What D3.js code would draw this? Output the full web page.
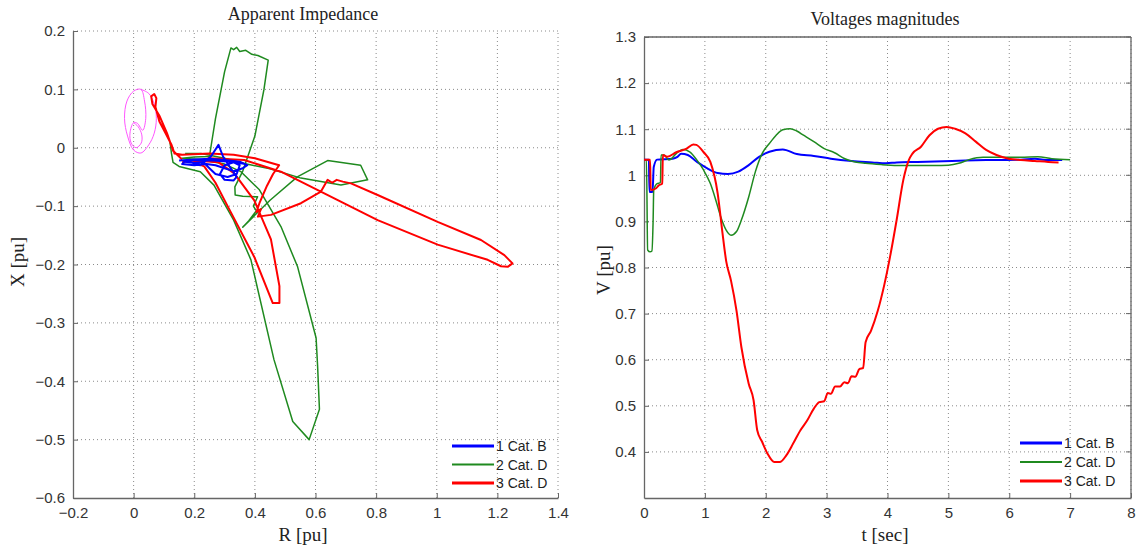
<!DOCTYPE html>
<html><head><meta charset="utf-8">
<script src="https://cdn.jsdelivr.net/npm/d3@7/dist/d3.min.js"></script>
<style>body{margin:0;background:#fff}svg{display:block}</style>
</head><body><svg id="c" width="1138" height="548"></svg>
<script>
// ---------- Data: Apparent impedance trajectories (R, X) ----------
const impSeriesNames = ["1 Cat. B", "2 Cat. D", "3 Cat. D"];
const impRTicks = [-0.2, 0, 0.2, 0.4, 0.6, 0.8, 1, 1.2, 1.4];
const impXTicks = [-0.6, -0.5, -0.4, -0.3, -0.2, -0.1, 0, 0.1, 0.2];

const zoneR = [0.024,0.05,0.068,0.075,0.068,0.05,0.024,0.0,-0.02,-0.03,-0.022,0.0,0.024,0.036,0.04,0.03,0.012,0.0,-0.012,-0.008,0.008,0.025,0.027,0.015,0.0];
const zoneX = [0.1,0.093,0.075,0.05,0.025,0.005,-0.009,-0.004,0.02,0.05,0.08,0.097,0.1,0.08,0.05,0.03,0.042,0.043,0.025,0.008,0.0,0.008,0.022,0.036,0.043];

const blueR = [0.15,0.2,0.25,0.3,0.35,0.375,0.36,0.33,0.3,0.27,0.24,0.2,0.16,0.17,0.22,0.255,0.28,0.295,0.32,0.34,0.33,0.3,0.285,0.3,0.33,0.35,0.34,0.31,0.27,0.25,0.23,0.2,0.17,0.2,0.26,0.32,0.37];
const blueX = [-0.022,-0.02,-0.019,-0.021,-0.024,-0.03,-0.035,-0.04,-0.035,-0.03,-0.028,-0.03,-0.028,-0.022,-0.03,-0.015,0.005,-0.015,-0.035,-0.05,-0.056,-0.055,-0.045,-0.03,-0.025,-0.03,-0.045,-0.05,-0.045,-0.035,-0.025,-0.026,-0.024,-0.021,-0.022,-0.024,-0.028];

const greenR = [0.12,0.125,0.13,0.15,0.22,0.265,0.33,0.387,0.463,0.525,0.579,0.613,0.607,0.602,0.541,0.486,0.415,0.354,0.3,0.22,0.16,0.2,0.25,0.27,0.3,0.321,0.33,0.34,0.35,0.37,0.39,0.41,0.444,0.43,0.4,0.36,0.334,0.335,0.36,0.409,0.395,0.405,0.38,0.36,0.45,0.54,0.64,0.749,0.772,0.684,0.552,0.45,0.365,0.3,0.222,0.17];
const greenX = [0.01,-0.01,-0.025,-0.032,-0.041,-0.064,-0.124,-0.192,-0.363,-0.469,-0.5,-0.448,-0.375,-0.326,-0.204,-0.135,-0.072,-0.041,-0.028,-0.02,-0.018,-0.016,-0.015,0.05,0.13,0.171,0.168,0.172,0.165,0.167,0.16,0.158,0.15,0.1,0.02,-0.04,-0.067,-0.081,-0.083,-0.084,-0.1,-0.108,-0.125,-0.136,-0.09,-0.05,-0.022,-0.03,-0.055,-0.064,-0.052,-0.036,-0.027,-0.018,-0.01,-0.01];

const redR = [0.16,0.13,0.11,0.085,0.062,0.058,0.068,0.075,0.072,0.085,0.105,0.125,0.135,0.16,0.25,0.33,0.4,0.48,0.46,0.44,0.415,0.405,0.42,0.41,0.453,0.552,0.618,0.64,0.655,0.67,0.69,0.717,0.805,1.003,1.146,1.223,1.25,1.234,1.212,1.168,1.003,0.805,0.629,0.486,0.365,0.25,0.2,0.233,0.27,0.31,0.398,0.459,0.481,0.481,0.453,0.398,0.332,0.28,0.2,0.16];
const redX = [-0.02,-0.005,0.025,0.055,0.075,0.088,0.092,0.085,0.07,0.045,0.025,0.005,-0.01,-0.012,-0.01,-0.012,-0.018,-0.03,-0.045,-0.065,-0.095,-0.11,-0.105,-0.118,-0.115,-0.095,-0.075,-0.055,-0.06,-0.055,-0.058,-0.061,-0.081,-0.127,-0.158,-0.184,-0.198,-0.204,-0.203,-0.192,-0.166,-0.124,-0.078,-0.041,-0.021,-0.018,-0.025,-0.032,-0.06,-0.1,-0.187,-0.266,-0.266,-0.237,-0.157,-0.09,-0.044,-0.025,-0.022,-0.025];

// ---------- Data: Voltage magnitudes (t, V) ----------
const voltTTicks = [0,1,2,3,4,5,6,7,8];
const voltVTicks = [0.4,0.5,0.6,0.7,0.8,0.9,1,1.1,1.2,1.3];

const blueT = [0,0.08,0.09,0.14,0.16,0.215,0.47,0.55,0.61,0.72,0.87,1.04,1.21,1.38,1.55,1.72,1.89,2.06,2.28,2.51,2.79,3.07,3.41,3.75,3.98,4.15,4.49,5.06,5.62,6.19,6.42,6.64,6.87];
const blueV = [1.034,1.034,0.964,0.964,1.018,1.034,1.036,1.04,1.047,1.044,1.029,1.015,1.005,1.003,1.008,1.022,1.04,1.051,1.056,1.046,1.042,1.036,1.031,1.028,1.026,1.028,1.029,1.031,1.033,1.034,1.036,1.033,1.033];

const greenT = [0,0.04,0.06,0.1,0.13,0.15,0.16,0.215,0.27,0.28,0.33,0.41,0.53,0.64,0.75,0.87,0.98,1.09,1.18,1.26,1.35,1.43,1.52,1.6,1.72,1.83,1.94,2.06,2.17,2.28,2.4,2.51,2.62,2.79,2.96,3.13,3.3,3.47,3.64,3.92,4.21,4.49,4.77,5.0,5.17,5.34,5.57,5.91,6.19,6.47,6.7,7.0];
const greenV = [1.034,1.034,0.838,0.834,0.836,0.903,0.968,0.982,0.984,1.044,1.044,1.033,1.047,1.056,1.051,1.033,1.011,0.982,0.946,0.91,0.881,0.87,0.878,0.903,0.953,1.008,1.047,1.069,1.087,1.099,1.101,1.096,1.087,1.073,1.058,1.049,1.036,1.029,1.026,1.023,1.021,1.021,1.021,1.022,1.026,1.034,1.039,1.039,1.039,1.04,1.036,1.034];

const redT = [0,0.1,0.11,0.2,0.24,0.3,0.31,0.38,0.53,0.7,0.81,0.86,0.98,1.09,1.21,1.29,1.35,1.43,1.52,1.6,1.72,1.8,1.86,1.94,2.03,2.14,2.23,2.34,2.45,2.57,2.68,2.79,2.88,2.96,3.02,3.07,3.14,3.22,3.29,3.35,3.41,3.47,3.54,3.6,3.64,3.73,3.84,3.95,4.04,4.15,4.26,4.35,4.41,4.55,4.69,4.83,4.97,5.11,5.28,5.45,5.62,5.79,5.99,6.19,6.42,6.64,6.81];
const redV = [1.034,1.034,0.968,0.972,0.978,0.982,1.044,1.04,1.05,1.058,1.067,1.066,1.05,1.029,0.961,0.874,0.814,0.771,0.706,0.627,0.548,0.512,0.447,0.422,0.396,0.378,0.378,0.393,0.418,0.447,0.468,0.494,0.508,0.51,0.528,0.526,0.542,0.542,0.551,0.549,0.564,0.563,0.58,0.582,0.638,0.663,0.706,0.764,0.822,0.903,0.99,1.033,1.047,1.062,1.087,1.101,1.105,1.101,1.091,1.073,1.055,1.044,1.036,1.033,1.031,1.029,1.028];

const seriesColors = ["#0000ff", "#1f8a1f", "#ff0000"];
const seriesWidths = [2, 1.5, 2];

// ---------- Drawing ----------
const svg = d3.select("#c");
const tickFont = "'Liberation Sans', Arial, sans-serif";
const serif = "'Liberation Serif', 'DejaVu Serif', serif";
const fmt = d => String(d).replace("-", "\u2212");

function zip(a, b) { return a.map((v, i) => [v, b[i]]); }

function panel(opt) {
  const x = d3.scaleLinear().domain(opt.xDomain).range(opt.xRange);
  const y = d3.scaleLinear().domain(opt.yDomain).range(opt.yRange);
  const g = svg.append("g");
  const [x0, x1] = opt.xRange, [y0, y1] = opt.yRange;
  const grid = g.append("g").attr("stroke", "#8a8a8a").attr("stroke-width", 1).attr("stroke-dasharray", "1,3");
  opt.xTicks.forEach(t => { if (t !== opt.xDomain[0]) grid.append("line").attr("x1", x(t)).attr("x2", x(t)).attr("y1", y0).attr("y2", y1); });
  opt.yTicks.forEach(t => { if (t !== opt.yDomain[0]) grid.append("line").attr("x1", x0).attr("x2", x1).attr("y1", y(t)).attr("y2", y(t)); });
  const ax = d3.axisBottom(x).tickValues(opt.xTicks).tickSizeInner(-5).tickSizeOuter(0).tickPadding(9).tickFormat(fmt);
  const ay = d3.axisLeft(y).tickValues(opt.yTicks).tickSizeInner(-5).tickSizeOuter(0).tickPadding(8).tickFormat(fmt);
  const gx = g.append("g").attr("transform", `translate(0,${y0})`).call(ax);
  const gy = g.append("g").attr("transform", `translate(${x0},0)`).call(ay);
  [gx, gy].forEach(a => {
    a.select(".domain").attr("stroke", "#666").attr("stroke-width", 1.3);
    a.selectAll(".tick line").attr("stroke", "#666");
    a.selectAll("text").attr("font-family", tickFont).attr("font-size", 15).attr("fill", "#333");
  });
  if (opt.box) {
    g.append("line").attr("x1", x0).attr("x2", x1).attr("y1", y1).attr("y2", y1).attr("stroke", "#666").attr("stroke-width", 1.3);
    g.append("line").attr("x1", x1).attr("x2", x1).attr("y1", y0).attr("y2", y1).attr("stroke", "#666").attr("stroke-width", 1.3);
    opt.yTicks.forEach(t => g.append("line").attr("x1", x1).attr("x2", x1 - 5).attr("y1", y(t)).attr("y2", y(t)).attr("stroke", "#666"));
  }
  g.append("text").attr("x", opt.titleX).attr("y", opt.titleY).attr("text-anchor", "middle")
    .attr("font-family", serif).attr("font-size", 18).attr("fill", "#222").text(opt.title);
  g.append("text").attr("x", opt.titleX).attr("y", 541).attr("text-anchor", "middle")
    .attr("font-family", serif).attr("font-size", 19).attr("fill", "#222").text(opt.xLabel);
  g.append("text").attr("transform", `translate(${opt.yLabelX},${opt.yLabelY}) rotate(-90)`).attr("text-anchor", "middle")
    .attr("font-family", serif).attr("font-size", 19).attr("fill", "#222").text(opt.yLabel);
  return { g, x, y };
}

// Left: Apparent Impedance
const L = panel({
  xDomain: [-0.2, 1.4], xRange: [73, 558], yDomain: [-0.6, 0.2], yRange: [498, 31],
  xTicks: impRTicks, yTicks: impXTicks, box: false,
  title: "Apparent Impedance", titleX: 303, titleY: 20, xLabel: "R [pu]", yLabel: "X [pu]", yLabelX: 24, yLabelY: 262
});
const lineL = d3.line().x(d => L.x(d[0])).y(d => L.y(d[1])).curve(d3.curveLinear);
const lineZone = d3.line().x(d => L.x(d[0])).y(d => L.y(d[1])).curve(d3.curveCatmullRom);
L.g.append("path").attr("d", lineZone(zip(zoneR, zoneX))).attr("fill", "none").attr("stroke", "#ff55ff").attr("stroke-width", 1);
const impData = [zip(blueR, blueX), zip(greenR, greenX), zip(redR, redX)];
[1, 2, 0].forEach(i => {
  L.g.append("path").attr("d", lineL(impData[i])).attr("fill", "none")
    .attr("stroke", seriesColors[i]).attr("stroke-width", seriesWidths[i]).attr("stroke-linejoin", "round");
});

// Right: Voltages magnitudes
const R = panel({
  xDomain: [0, 8], xRange: [644, 1131], yDomain: [0.3, 1.3], yRange: [498, 37],
  xTicks: voltTTicks, yTicks: voltVTicks, box: true,
  title: "Voltages magnitudes", titleX: 885, titleY: 25, xLabel: "t [sec]", yLabel: "V [pu]", yLabelX: 610, yLabelY: 270
});
const lineR = d3.line().x(d => R.x(d[0])).y(d => R.y(d[1])).curve(d3.curveMonotoneX);
const voltData = [zip(blueT, blueV), zip(greenT, greenV), zip(redT, redV)];
[0, 1, 2].forEach(i => {
  R.g.append("path").attr("d", lineR(voltData[i])).attr("fill", "none")
    .attr("stroke", seriesColors[i]).attr("stroke-width", seriesWidths[i]).attr("stroke-linejoin", "round");
});

// Legends
function legend(x, y0, dy) {
  impSeriesNames.forEach((n, i) => {
    const yy = y0 + i * dy;
    svg.append("line").attr("x1", x).attr("x2", x + 42).attr("y1", yy).attr("y2", yy)
      .attr("stroke", seriesColors[i]).attr("stroke-width", i === 1 ? 2 : 3);
    svg.append("text").attr("x", x + 44).attr("y", yy + 5).attr("font-family", tickFont)
      .attr("font-size", 14).attr("fill", "#222").text(n);
  });
}
legend(452, 446, 18.5);
legend(1020, 443, 19);
</script></body></html>
